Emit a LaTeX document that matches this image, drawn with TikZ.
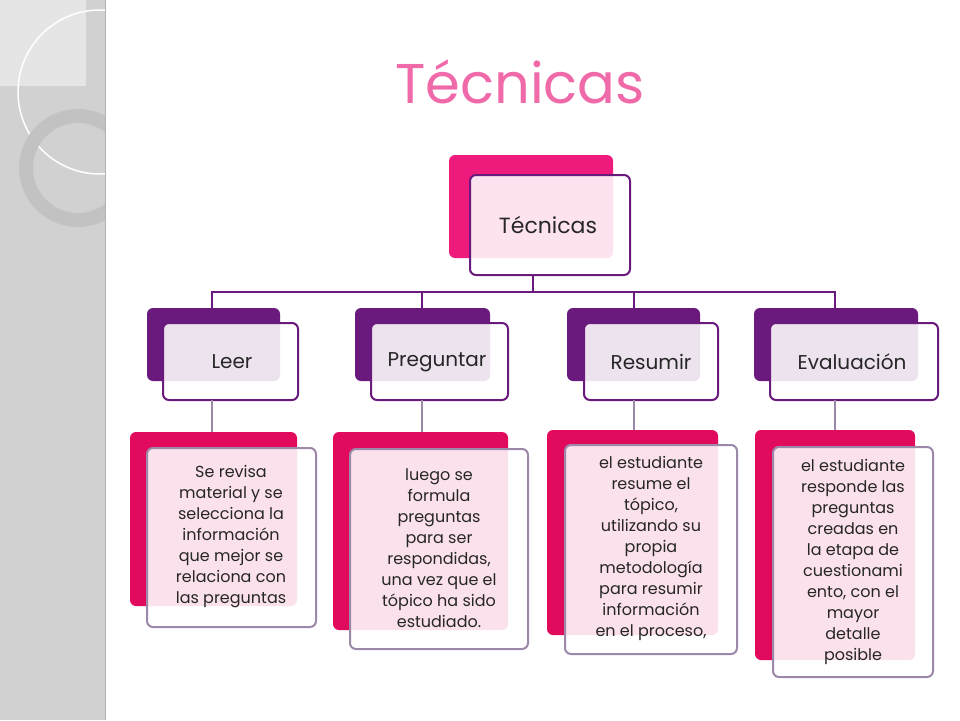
\documentclass[tikz,border=0pt]{standalone}
\usepackage{fontspec}
\setmainfont{Poppins}
\definecolor{pinkA}{HTML}{EE1A7C}
\definecolor{purp}{HTML}{6A1A7C}
\definecolor{mag}{HTML}{E20A5C}
\definecolor{lav}{HTML}{9C88A8}
\definecolor{titlec}{HTML}{F06AAA}
\tikzset{
 back/.style={rounded corners=6pt},
 front/.style={rounded corners=6pt, line width=2pt, fill=white, fill opacity=0.88},
 txt/.style={align=center, font=\fontsize{16}{21}\selectfont, text=black!85},
 lvl/.style={font=\fontsize{20}{22}\selectfont, text=black!85},
}
\begin{document}
\begin{tikzpicture}[x=1pt,y=-1pt]
\useasboundingbox (0,0) rectangle (960,720);
\fill[white] (0,0) rectangle (960,720);
% left strip
\begin{scope}
\clip (0,0) rectangle (105,720);
\fill[black!18] (0,0) rectangle (105,720);
\fill[black!10] (0,0) rectangle (86,86);
\draw[white, line width=1.5pt] (100,92) circle (82);
\draw[black!24, line width=14pt] (78,168) circle (52);
\end{scope}
\draw[black!30] (105,0) -- (105,720);
% title
\node (title) [font=\fontsize{56}{56}\selectfont, text=titlec] at (520,82) {Técnicas};
% root
\fill[pinkA, back] (449,155) rectangle (613,258);
\draw[purp, front] (470,175) rectangle (630,275);
\node (root) [lvl, font=\fontsize{22}{24}\selectfont] at (548,225) {Técnicas};
\coordinate (rb) at (533,275);
% level 1
\foreach \n/\bx/\bw/\fx/\fw/\t/\tx in {
 leer/147/133/163/135/Leer/232,
 preg/355/135/371/137/Preguntar/437,
 res/567/133/584/134/Resumir/651,
 eva/754/164/770/168/Evaluación/852}{
 \fill[purp, back] (\bx,308) rectangle ++(\bw,73);
 \draw[purp, front] (\fx,323) rectangle ++(\fw,77);
 \node (\n) [lvl] at (\tx,362) {\t};
}
\coordinate (j) at (533,292);
\draw[purp, line width=2.5pt] (rb) -- (j);
\draw[purp, line width=2.5pt] (212,308) |- (835,292) -- (835,308);
\draw[purp, line width=2.5pt] (422,292) -- (422,308);
\draw[purp, line width=2.5pt] (634,292) -- (634,308);
% level 2
\fill[mag, back] (130,432) rectangle (297,606);
\fill[mag, back] (333,432) rectangle (508,630);
\fill[mag, back] (547,430) rectangle (718,635);
\fill[mag, back] (755,430) rectangle (915,660);
\draw[lav, front] (147,448) rectangle (316,627);
\draw[lav, front] (350,449) rectangle (528,649);
\draw[lav, front] (565,445) rectangle (737,654);
\draw[lav, front] (773,447) rectangle (933,677);
\draw[lav, line width=2.5pt] (212,400) -- (212,432);
\draw[lav, line width=2.5pt] (422,400) -- (422,432);
\draw[lav, line width=2.5pt] (634,400) -- (634,430);
\draw[lav, line width=2.5pt] (835,400) -- (835,430);
\node (t1) [txt] at (231,537) {Se revisa\\material y se\\selecciona la\\información\\que mejor se\\relaciona con\\las preguntas};
\node (t2) [txt] at (439,548) {luego se\\formula\\preguntas\\para ser\\respondidas,\\una vez que el\\tópico ha sido\\estudiado.};
\node (t3) [txt] at (651,548) {el estudiante\\resume el\\tópico,\\utilizando su\\propia\\metodología\\para resumir\\información\\en el proceso,};
\node (t4) [txt] at (853,562) {el estudiante\\responde las\\preguntas\\creadas en\\la etapa de\\cuestionami\\ento, con el\\mayor\\detalle\\posible};
\end{tikzpicture}
\end{document}
